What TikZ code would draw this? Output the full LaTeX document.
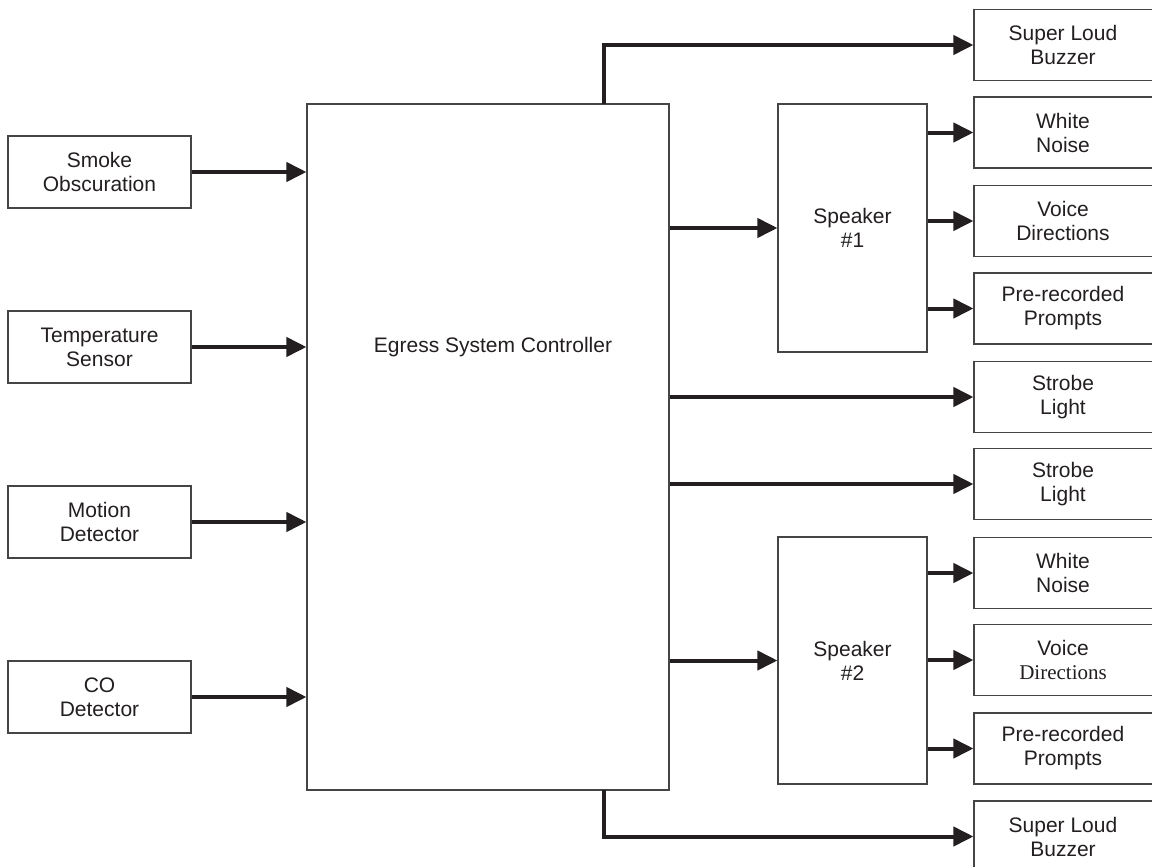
\documentclass[tikz,border=0pt]{standalone}
\usepackage{fontspec}
\setmainfont{Liberation Sans}
\newfontfamily\timesfont{Liberation Serif}
\usetikzlibrary{arrows.meta,calc}
\definecolor{ink}{HTML}{231F20}
\definecolor{edge}{HTML}{454545}
\begin{document}
\begin{tikzpicture}[x=1pt,y=-1pt,
  box/.style={draw=edge,line width=1.1pt,fill=white,inner sep=0pt,align=center,
    text=ink,font=\fontsize{21}{24}\selectfont},
  lbl/.style={text=ink,font=\fontsize{21}{24}\selectfont,align=center,inner sep=0pt},
  inbox/.style={box,minimum width=183pt,minimum height=72pt},
  outbox/.style={box,minimum width=184pt,minimum height=71pt,
    label={[lbl,xshift=-3pt]center:{#1}}},
  spkbox/.style={box,minimum width=149pt},
  conn/.style={draw=ink,line width=4pt,-{Triangle[length=20pt,width=19pt]}}]
\useasboundingbox (0,0) rectangle (1152,867);
% main controller
\node[box,minimum width=362pt,minimum height=686pt] (main) at (488,447) {};
\node[lbl] (ctrltext) at (493,347) {Egress System Controller};
% inputs
\node[inbox] (smoke) at (99.5,172) {Smoke\\Obscuration};
\node[inbox] (temp) at (99.5,347) {Temperature\\Sensor};
\node[inbox] (motion) at (99.5,522) {Motion\\Detector};
\node[inbox] (co) at (99.5,697) {CO\\Detector};
% speakers
\node[spkbox,minimum height=248pt] (sp1) at (852.5,228) {Speaker\\\#1};
\node[spkbox,minimum height=247pt] (sp2) at (852.5,660.5) {Speaker\\\#2};
% outputs (right edges run past the picture's border, as in the reference)
\node[outbox={Super Loud\\Buzzer}] (buzT) at (1066,45) {};
\node[outbox={White\\Noise}] (wn1) at (1066,132.5) {};
\node[outbox={Voice\\Directions}] (vd1) at (1066,221) {};
\node[outbox={Pre-recorded\\Prompts}] (pr1) at (1066,308.5) {};
\node[outbox={Strobe\\Light}] (sl1) at (1066,397) {};
\node[outbox={Strobe\\Light}] (sl2) at (1066,484) {};
\node[outbox={White\\Noise}] (wn2) at (1066,573) {};
\node[outbox={Voice\\{\timesfont Directions}}] (vd2) at (1066,660) {};
\node[outbox={Pre-recorded\\Prompts}] (pr2) at (1066,748.5) {};
\node[outbox={Super Loud\\Buzzer}] (buzB) at (1066,836.5) {};
% input connectors
\draw[conn] (smoke.east) -- (smoke.east -| main.west);
\draw[conn] (temp.east) -- (temp.east -| main.west);
\draw[conn] (motion.east) -- (motion.east -| main.west);
\draw[conn] (co.east) -- (co.east -| main.west);
% controller to speakers and strobes
\draw[conn] (sp1.west -| main.east) -- (sp1.west);
\draw[conn] (sp2.west -| main.east) -- (sp2.west);
\draw[conn] (sl1.west -| main.east) -- (sl1.west);
\draw[conn] (sl2.west -| main.east) -- (sl2.west);
% buzzers
\coordinate (tapT) at (604,104);
\coordinate (tapB) at (604,790);
\draw[conn] (tapT) |- (buzT.west);
\draw[conn] (tapB) |- (buzB.west);
% speaker outputs
\draw[conn] (wn1.west -| sp1.east) -- (wn1.west);
\draw[conn] (vd1.west -| sp1.east) -- (vd1.west);
\draw[conn] (pr1.west -| sp1.east) -- (pr1.west);
\draw[conn] (wn2.west -| sp2.east) -- (wn2.west);
\draw[conn] (vd2.west -| sp2.east) -- (vd2.west);
\draw[conn] (pr2.west -| sp2.east) -- (pr2.west);
\end{tikzpicture}
\end{document}
